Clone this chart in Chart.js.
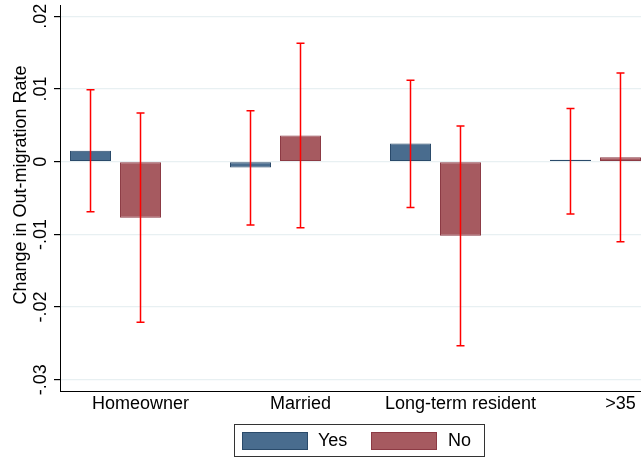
<!DOCTYPE html>
<html>
<head>
<meta charset="utf-8">
<script src="https://cdn.jsdelivr.net/npm/chart.js@4/dist/chart.umd.min.js"></script>
<style>
  html, body { margin: 0; padding: 0; background: #fff; overflow: hidden; width: 641px; height: 459px; }
  #wrap { position: relative; width: 680px; height: 459px; }
</style>
</head>
<body>
<div id="wrap"><canvas id="c"></canvas></div>
<script>
// Change in out-migration rate by group, with 95% confidence intervals
const categories = ["Homeowner", "Married", "Long-term resident", ">35"];
const seriesNames = ["Yes", "No"];
const yesValues = [0.0015, -0.0008, 0.0025, 0.0001];
const noValues  = [-0.0077, 0.0036, -0.0102, 0.0006];
const yesLow  = [-0.0069, -0.0087, -0.0063, -0.0072];
const yesHigh = [0.0099, 0.0070, 0.0112, 0.0073];
const noLow   = [-0.0221, -0.0091, -0.0253, -0.0110];
const noHigh  = [0.0067, 0.0163, 0.0049, 0.0122];
const yTickValues = [-0.03, -0.02, -0.01, 0, 0.01, 0.02];
const yTickLabels = ["-.03", "-.02", "-.01", "0", ".01", ".02"];
const yTitle = "Change in Out-migration Rate";

const FONT = "'Liberation Sans', Arial, Helvetica, sans-serif";
const yesFill = "rgb(73,108,142)", yesLine = "rgb(42,74,106)";
const noFill = "rgb(166,90,96)", noLine = "rgb(140,58,68)";

// confidence interval whiskers drawn at each bar's centre
const errorBars = {
  id: "errorBars",
  afterDatasetsDraw(chart) {
    const { ctx } = chart;
    const y = chart.scales.y;
    const ranges = [[yesLow, yesHigh], [noLow, noHigh]];
    ctx.save();
    ctx.strokeStyle = "#ff0000";
    ctx.lineWidth = 1.5;
    chart.data.datasets.forEach((ds, di) => {
      chart.getDatasetMeta(di).data.forEach((bar, i) => {
        const x = bar.x;
        const yl = y.getPixelForValue(ranges[di][0][i]);
        const yh = y.getPixelForValue(ranges[di][1][i]);
        ctx.beginPath();
        ctx.moveTo(x, yl); ctx.lineTo(x, yh);
        ctx.moveTo(x - 4, yl); ctx.lineTo(x + 4, yl);
        ctx.moveTo(x - 4, yh); ctx.lineTo(x + 4, yh);
        ctx.stroke();
      });
    });
    ctx.restore();
  }
};

// vertical axis title and boxed legend below the plot
const decorations = {
  id: "decorations",
  afterDraw(chart) {
    const { ctx } = chart;
    ctx.save();
    ctx.fillStyle = "#000";
    ctx.font = "18px " + FONT;
    ctx.textAlign = "center";
    ctx.textBaseline = "middle";
    ctx.translate(21, 185);
    ctx.rotate(-Math.PI / 2);
    ctx.fillText(yTitle, 0, 0);
    ctx.restore();

    ctx.save();
    ctx.strokeStyle = "#333";
    ctx.lineWidth = 1;
    ctx.strokeRect(234.5, 424.5, 250, 32);
    const items = chart.data.datasets;
    const swX = [242.5, 371.5];
    const txX = [318, 448];
    items.forEach((ds, i) => {
      ctx.fillStyle = ds.backgroundColor;
      ctx.fillRect(swX[i], 432.5, 65, 17);
      ctx.strokeStyle = ds.borderColor;
      ctx.strokeRect(swX[i], 432.5, 65, 17);
      ctx.fillStyle = "#000";
      ctx.font = "18px " + FONT;
      ctx.textAlign = "left";
      ctx.textBaseline = "middle";
      ctx.fillText(ds.label, txX[i], 441.5);
    });
    ctx.restore();
  }
};

new Chart(document.getElementById("c"), {
  type: "bar",
  data: {
    datasets: [
      {
        label: seriesNames[0],
        data: categories.map((c, i) => ({ x: i, y: yesValues[i] })),
        backgroundColor: yesFill, borderColor: yesLine, borderWidth: 1, borderSkipped: false,
        minBarLength: 2,
        categoryPercentage: 0.625, barPercentage: 0.82
      },
      {
        label: seriesNames[1],
        data: categories.map((c, i) => ({ x: i, y: noValues[i] })),
        backgroundColor: noFill, borderColor: noLine, borderWidth: 1, borderSkipped: false,
        minBarLength: 2,
        categoryPercentage: 0.625, barPercentage: 0.82
      }
    ]
  },
  options: {
    responsive: true,
    maintainAspectRatio: false,
    devicePixelRatio: 1,
    animation: false,
    events: [],
    layout: { autoPadding: false, padding: { top: 5, right: 29, left: 0, bottom: 0 } },
    plugins: { legend: { display: false }, tooltip: { enabled: false } },
    scales: {
      x: {
        type: "linear",
        offset: false,
        min: -0.347, max: 3.347,
        afterBuildTicks(scale) { scale.ticks = categories.map((c, i) => ({ value: i + 0.156 })); },
        afterFit(scale) { scale.height = 68; scale.paddingLeft = 0; scale.paddingRight = 0; },
        ticks: {
          autoSkip: false, minRotation: 0, maxRotation: 0, padding: 2,
          color: "#000", font: { family: FONT, size: 18 },
          callback: (v, i) => categories[i]
        },
        grid: { display: false, drawTicks: false, offset: false },
        border: { display: true, color: "#000", width: 1 }
      },
      y: {
        min: -0.03154, max: 0.02155,
        afterBuildTicks(scale) { scale.ticks = yTickValues.map(v => ({ value: v })); },
        afterFit(scale) { scale.width = 60; scale.paddingTop = 0; scale.paddingBottom = 0; },
        ticks: {
          minRotation: 90, maxRotation: 90, crossAlign: "center", padding: -3,
          color: "#000", font: { family: FONT, size: 18 },
          callback: (v, i) => yTickLabels[i]
        },
        grid: { color: "rgb(232,240,242)", lineWidth: 1.2, tickColor: "#000", tickLength: 6, drawTicks: true },
        border: { color: "#000", width: 1 }
      }
    }
  },
  plugins: [errorBars, decorations]
});
</script>
</body>
</html>
